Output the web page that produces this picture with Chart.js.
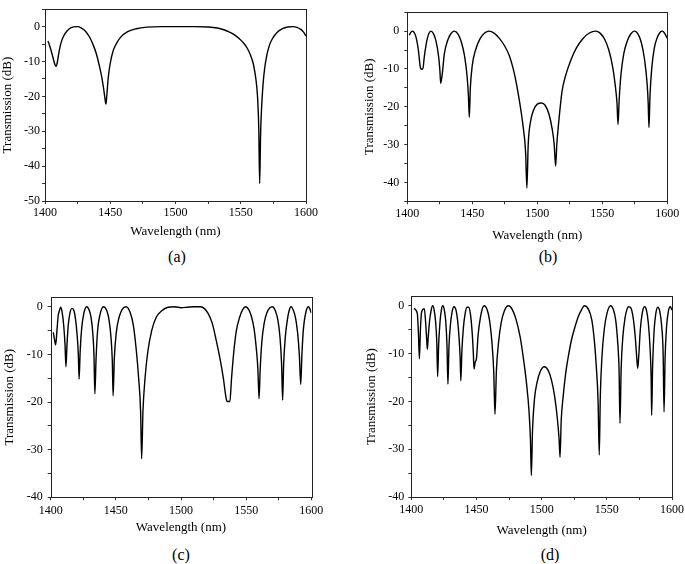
<!DOCTYPE html>
<html lang="en">
<head>
  <meta charset="UTF-8" />
  <title>Transmission spectra</title>
  <script src="https://cdn.jsdelivr.net/npm/chart.js"></script>
  <style>
    body { margin: 0; background: #fff; width: 685px; height: 564px; position: relative; overflow: hidden; }
    .panel { position: absolute; }
    .cap { position: absolute; font: 16px 'Liberation Serif', serif; color: #000; transform: translate(-50%, -50%); }
  </style>
</head>
<body>
  <div class="panel" id="pa"><canvas id="ca"></canvas></div>
  <div class="panel" id="pb"><canvas id="cb"></canvas></div>
  <div class="panel" id="pc"><canvas id="cc"></canvas></div>
  <div class="panel" id="pd"><canvas id="cd"></canvas></div>
  <div class="cap" style="left:177px;top:257px">(a)</div>
  <div class="cap" style="left:548px;top:257px">(b)</div>
  <div class="cap" style="left:181px;top:555px">(c)</div>
  <div class="cap" style="left:550px;top:555px">(d)</div>

  <script>
    // ---- data (wavelength in nm, transmission in dB) ----
    const waveA = [1402.3, 1404, 1406, 1407.5, 1408.4, 1409.3, 1410.5, 1412, 1414, 1417, 1420, 1424.3, 1428, 1431, 1434, 1437, 1439.5, 1441.5, 1443.5, 1445, 1446.3, 1446.7, 1447.3, 1448.5, 1450, 1452, 1454.5, 1458, 1463, 1470, 1478, 1490, 1500, 1515, 1525, 1532, 1537, 1541, 1545, 1549, 1552, 1555, 1557.5, 1559.5, 1561, 1562.2, 1563, 1563.8, 1564.5, 1565.2, 1566, 1567, 1568.3, 1570, 1572, 1574.5, 1578, 1582, 1586, 1590, 1593, 1596, 1598, 1600];
    const transA = [-4.1, -6, -8.7, -10.8, -11.4, -10.5, -7.8, -5, -2.9, -1.2, -0.3, 0, -0.4, -1.3, -2.9, -5.3, -8, -11, -14.5, -18, -21.5, -22.2, -20, -14.5, -10.5, -7.2, -5, -3, -1.5, -0.6, -0.15, 0, 0, 0, -0.1, -0.4, -0.9, -1.5, -2.3, -3.5, -4.6, -6.2, -8.2, -10.5, -13.5, -17, -21, -29, -45, -31, -23, -17, -12, -8.2, -5.3, -3.3, -1.6, -0.6, -0.1, 0, -0.2, -0.8, -1.5, -2.7];

    const waveB = [1401.5, 1403, 1404.1, 1405.5, 1407, 1408.5, 1410, 1410.5, 1412, 1413, 1414.5, 1416, 1418.2, 1420, 1422, 1424, 1425, 1425.7, 1427, 1428.5, 1431, 1433.5, 1436.2, 1439, 1441.5, 1444, 1446, 1447, 1447.7, 1448.5, 1450, 1452.5, 1456, 1459.5, 1462.8, 1467, 1471, 1475, 1478.5, 1481.5, 1484, 1486.5, 1489, 1491, 1492, 1493, 1494.5, 1497, 1500, 1503.3, 1506, 1509, 1511.5, 1513, 1514.1, 1515, 1516.5, 1519, 1522, 1526, 1530, 1535, 1540, 1544.9, 1548.5, 1552, 1555, 1558, 1560, 1561.3, 1562.1, 1563, 1564.5, 1566.5, 1569, 1572, 1574.9, 1577.5, 1580, 1582.5, 1584.5, 1585.3, 1585.9, 1586.7, 1588, 1590, 1592.5, 1594.5, 1596.2, 1598, 1600];
    const transB = [-1.1, -0.2, 0, -0.5, -2, -5, -9.5, -10, -10, -7, -3.5, -1.2, 0, -0.6, -2.5, -6.5, -10, -13.8, -11, -6, -2.5, -0.7, 0, -0.8, -2.8, -6.5, -12, -17, -22.8, -15, -9, -5, -2, -0.5, 0, -0.6, -2, -4, -6.5, -10, -14, -19, -25, -32, -41.5, -30, -24.5, -21, -19.3, -19, -19.6, -22, -26, -30, -35.7, -30, -24, -16, -11.5, -7.5, -4.5, -2, -0.5, 0, -0.6, -2.3, -5, -9.5, -14.5, -19, -24.7, -18, -11, -6, -2.8, -0.7, 0, -0.8, -3, -7.5, -14, -19, -25.5, -17, -10, -4.5, -1.5, -0.3, 0, -0.6, -1.9];

    const waveC = [1402, 1403, 1403.8, 1404.8, 1405.7, 1406.5, 1407.7, 1408.8, 1410, 1411, 1411.7, 1412.5, 1413.5, 1414.8, 1416.3, 1417.8, 1419, 1420.3, 1421.2, 1421.8, 1422.6, 1423.8, 1425.5, 1427.6, 1429.5, 1431, 1432.3, 1433.2, 1433.9, 1434.8, 1436, 1437.8, 1440.4, 1443, 1444.8, 1446.3, 1447.3, 1447.9, 1448.8, 1450.3, 1452.5, 1455, 1457.8, 1461, 1463.3, 1465.5, 1467.5, 1469, 1469.8, 1470.8, 1472.4, 1474.5, 1477.5, 1481, 1485, 1490, 1495, 1500, 1505, 1510, 1515, 1518, 1521, 1524, 1527, 1530, 1532.5, 1534.5, 1535.5, 1537.5, 1538.8, 1540.5, 1542.5, 1545, 1547.3, 1549.7, 1552, 1554, 1556, 1557.7, 1559, 1559.9, 1560.8, 1562, 1563.8, 1566, 1570.1, 1572.5, 1574.5, 1576, 1577.2, 1578, 1578.8, 1580, 1581.6, 1583, 1584.4, 1586.3, 1588, 1589.5, 1590.8, 1591.9, 1592.8, 1594, 1595.8, 1597.7, 1598.8, 1600];
    const transC = [-5.4, -7, -8, -5, -2, -1, -0.1, -1.2, -4, -8, -12.6, -8, -3.8, -1.3, -0.35, -0.8, -2.5, -6, -10, -15.2, -9.5, -4.5, -1.3, 0, -0.7, -2.3, -5.5, -10, -18.3, -11, -5, -1.7, 0, -0.8, -2.8, -6.5, -11.5, -18.7, -11, -5.5, -2.2, -0.5, 0, -1.2, -3.7, -8.6, -15, -22, -31.9, -22, -15, -9.5, -5, -2.2, -0.9, -0.1, 0, -0.2, -0.1, 0, 0, -0.4, -1.5, -3.5, -7, -11, -15, -19, -19.9, -19.9, -15, -9.5, -5, -2.2, -0.6, 0, -0.6, -2, -4.5, -8.5, -13, -19.3, -13, -7.5, -3.5, -1.2, 0, -0.9, -3, -6.5, -12, -19.6, -12, -6.5, -2.8, -0.8, 0, -0.8, -2.5, -5.5, -10, -16.3, -10, -4.5, -1.2, 0, -0.4, -1.3];

    const waveD = [1402, 1404.6, 1405.5, 1406.2, 1407, 1407.9, 1410, 1411, 1411.8, 1412.3, 1413, 1414, 1415.2, 1416.4, 1417.6, 1418.7, 1419.6, 1420.2, 1421, 1422, 1423, 1424.2, 1425.4, 1426.5, 1427.4, 1428.1, 1428.9, 1430, 1431.3, 1432.6, 1434.3, 1435.5, 1436.7, 1437.5, 1438, 1438.8, 1440, 1441.4, 1442.7, 1444, 1445.5, 1446.8, 1447.6, 1448.1, 1449, 1450, 1451.3, 1453, 1454.5, 1456, 1458, 1460, 1461.8, 1463.2, 1464.2, 1465.3, 1467, 1469, 1471.5, 1474.4, 1477.5, 1480.5, 1483.5, 1486, 1488.5, 1490.3, 1491.4, 1492.1, 1493, 1494.5, 1496.5, 1499, 1502, 1505, 1507.5, 1510, 1512.2, 1513.4, 1514.1, 1515, 1516.5, 1518.5, 1520.4, 1523, 1525.6, 1528.5, 1530.7, 1532.7, 1536, 1538.5, 1540.5, 1542, 1543.3, 1544.2, 1545, 1546.3, 1548, 1550.2, 1552.9, 1555, 1556.8, 1558.3, 1559.4, 1560.1, 1561, 1562.3, 1564, 1565.5, 1566.8, 1568.5, 1570.2, 1571.8, 1573, 1573.7, 1574.5, 1575.7, 1577.2, 1578.8, 1580.3, 1581.8, 1583.2, 1584, 1584.4, 1585.1, 1586.2, 1587.5, 1589, 1590.5, 1592, 1593.2, 1593.9, 1594.7, 1595.8, 1597.2, 1598.7, 1600];
    const transD = [-0.6, -1.6, -6, -11.1, -5, -1.3, -0.6, -3.5, -7, -9.1, -6.5, -3.2, -1, 0, -1, -3.5, -8, -14.8, -8, -3.5, -1, 0, -1, -3.5, -8.5, -16.4, -8.5, -4, -1.3, -0.2, -0.9, -3, -7, -11, -15.7, -9.5, -4.5, -1.5, -0.3, -0.3, -2, -6, -10, -13.2, -11.8, -11, -6, -2.5, -0.6, 0, -0.7, -3, -7.5, -13.5, -22.7, -13.5, -7.5, -3.5, -1, 0, -0.8, -3, -6.5, -11, -16.5, -22, -28, -35.5, -26, -19.5, -16, -13.7, -12.75, -13.5, -15.5, -19, -24, -28, -31.7, -24, -19, -14, -10.7, -7, -4.4, -2, -0.8, 0, -0.8, -3, -7.5, -13, -20, -31.2, -19, -10.5, -5, -1.5, 0, -0.8, -3, -7.5, -13.5, -24.6, -13, -6.5, -2.5, -0.7, -0.2, -0.5, -2.5, -6.5, -11, -13.1, -10.5, -5, -1.5, -0.2, -0.8, -3.5, -9, -15, -22.9, -13, -5.5, -1.8, -0.3, -1, -4, -10, -22.2, -11, -4.5, -1.2, -0.2, -0.9];

    const xLimits = [1400, 1600];
    const yLimitsA = [-50, 5];
    const yLimitsB = [-45, 5];
    const yLimitsC = [-40, 2];
    const yLimitsD = [-40, 2];

    Chart.defaults.font.family = "'Liberation Serif', 'Times New Roman', serif";
    Chart.defaults.color = '#000';

    // black frame around the plot area
    const frame = {
      id: 'frame',
      afterDatasetsDraw(chart) {
        const a = chart.chartArea, c = chart.ctx;
        c.save();
        c.strokeStyle = '#222';
        c.lineWidth = 1;
        c.strokeRect(Math.round(a.left) + 0.5, Math.round(a.top) + 0.5,
                     Math.round(a.right - a.left), Math.round(a.bottom - a.top));
        c.restore();
      }
    };

    // box: page coordinates of the div and of the plot area
    function makePanel(divId, canvasId, box, wave, trans, yLim) {
      const div = document.getElementById(divId);
      const W = Math.ceil(box.r - box.x + 16);
      const H = Math.ceil(box.b - box.y + box.xh);
      div.style.left = box.x + 'px';
      div.style.top = box.y + 'px';
      const canvas = document.getElementById(canvasId);
      canvas.width = W;
      canvas.height = H;

      new Chart(canvas, {
        type: 'line',
        data: {
          datasets: [{
            data: wave.map((w, i) => ({ x: w, y: trans[i] })),
            borderColor: '#000',
            borderWidth: 1.4,
            pointRadius: 0,
            fill: false,
            cubicInterpolationMode: 'monotone'
          }]
        },
        options: {
          responsive: false,
          animation: false,
          devicePixelRatio: 1,
          layout: {
            padding: {
              left: 0,
              top: box.t - box.y,
              right: W - (box.r - box.x),
              bottom: H - (box.b - box.y) - box.xh
            }
          },
          plugins: { legend: { display: false }, tooltip: { enabled: false } },
          scales: {
            x: {
              type: 'linear',
              min: xLimits[0], max: xLimits[1],
              border: { display: false },
              grid: { drawOnChartArea: false, tickLength: 3, tickColor: '#333' },
              ticks: {
                stepSize: 25, autoSkip: false, maxRotation: 0, padding: box.xpad,
                font: { size: 12 },
                callback: v => (v % 50 === 0 ? String(v) : '')
              },
              title: { display: true, text: 'Wavelength (nm)', font: { size: 13 }, padding: 0 },
              afterFit: s => { s.height = box.xh; }
            },
            y: {
              min: yLim[0], max: yLim[1],
              border: { display: false },
              grid: { drawOnChartArea: false, tickLength: 3, tickColor: '#333' },
              ticks: {
                stepSize: 5, autoSkip: false, includeBounds: false, padding: box.ypad,
                font: { size: 12 },
                callback: v => (v % 10 === 0 && v <= 0 ? String(v) : '')
              },
              title: { display: true, text: 'Transmission (dB)', font: { size: 13 }, padding: 0 },
              afterFit: s => { s.width = box.l - box.x; }
            }
          }
        },
        plugins: [frame]
      });
    }

    makePanel('pa', 'ca', { x: 0,   y: 0,   l: 45,    t: 1,     r: 306,   b: 201,   xh: 38, xpad: 2, ypad: 2 }, waveA, transA, yLimitsA);
    makePanel('pb', 'cb', { x: 362, y: 0,   l: 407.3, t: 1,     r: 667.3, b: 201.3, xh: 42, xpad: 2, ypad: 5 }, waveB, transB, yLimitsB);
    makePanel('pc', 'cc', { x: 2,   y: 285, l: 50.7,  t: 295.7, r: 311.3, b: 497.3, xh: 38, xpad: 3, ypad: 5 }, waveC, transC, yLimitsC);
    makePanel('pd', 'cd', { x: 364, y: 285, l: 411.3, t: 296,   r: 672,   b: 497,   xh: 41, xpad: 3, ypad: 4 }, waveD, transD, yLimitsD);
  </script>
</body>
</html>
